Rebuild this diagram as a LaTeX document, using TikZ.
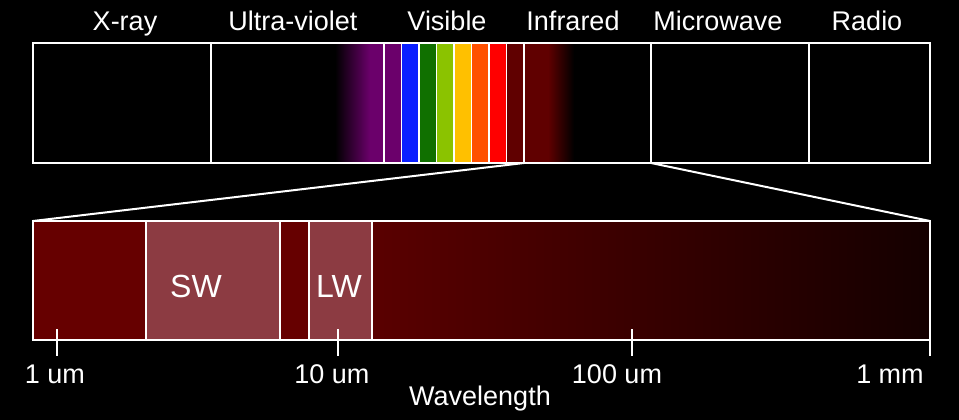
\documentclass[tikz,border=0pt]{standalone}
\usepackage{fontspec}
\setmainfont{Liberation Sans}

\definecolor{vpurple}{HTML}{6B006B}
\definecolor{vblue}{HTML}{0A1EFF}
\definecolor{vgreen}{HTML}{107000}
\definecolor{vlime}{HTML}{8BC300}
\definecolor{vyellow}{HTML}{FFC000}
\definecolor{vorange}{HTML}{FF5000}
\definecolor{vred}{HTML}{FF0000}
\definecolor{vdarkred}{HTML}{600000}
\definecolor{irred}{HTML}{660000}
\definecolor{bandfill}{HTML}{8C3B42}
\definecolor{farred}{HTML}{5A0000}
\definecolor{farblack}{HTML}{140000}

\begin{document}
\begin{tikzpicture}[
	x=1pt, y=-1pt,
	outline/.style={white, line width=2pt},
	toplabel/.style={white, anchor=base, font=\fontsize{27}{32}\selectfont},
	axislabel/.style={white, anchor=base, font=\fontsize{27}{32}\selectfont},
	bandlabel/.style={white, anchor=base, font=\fontsize{32}{38}\selectfont}
	]
	
	% Background
	\fill[black] (0,0) rectangle (959,420);
	
	% Corners of both bars
	\coordinate (topNW) at (33,43);
	\coordinate (topSE) at (930,163);
	\coordinate (irSW) at (524,163);
	\coordinate (mwSW) at (651,163);
	\coordinate (botNW) at (33,221);
	\coordinate (botNE) at (930,221);
	\coordinate (botSE) at (930,340);
	
	% Visible part of the top bar
	\shade[left color=black, right color=vpurple] (335,43) rectangle (370,163);
	\fill[vpurple] (370,43) rectangle (384,163);
	\foreach \c [count=\i from 0] in {vpurple,vblue,vgreen,vlime,vyellow,vorange,vred,vdarkred}
	\fill[\c] ({384+17.5*\i},43) rectangle ++(17.5,120);
	\fill[vdarkred] (524,43) rectangle (548,163);
	\shade[left color=vdarkred, right color=black] (548,43) rectangle (574,163);
	
	% Infrared part of the bottom bar
	\fill[irred] (33,221) rectangle (146,340);
	\fill[bandfill] (146,221) rectangle (280,340);
	\fill[irred] (280,221) rectangle (309,340);
	\fill[bandfill] (309,221) rectangle (372,340);
	\shade[left color=farred, right color=farblack] (372,221) rectangle (930,340);
	
	% Outlines
	\draw[outline] (topNW) rectangle (topSE);
	\foreach \x in {211,651,809}
	\draw[outline] (\x,43) -- (\x,163);
	\foreach \k in {0,...,8}
	\draw[white, line width=1.2pt] ({384+17.5*\k},43) -- ({384+17.5*\k},163);
	
	\draw[outline] (botNW) rectangle (botSE);
	\foreach \x in {146,280,309,372}
	\draw[outline] (\x,221) -- (\x,340);
	
	% Zoom lines
	\draw[outline] (irSW) -- (botNW);
	\draw[outline] (mwSW) -- (botNE);
	
	% Ticks
	\foreach \x in {57,338,632}
	\draw[outline] (\x,329) -- (\x,356);
	\draw[outline] (botSE) -- (930,356);
	
	% Names of the ranges
	\node[toplabel] (xray) at (125,31) {X-ray};
	\node[toplabel] (uv) at (293,31) {Ultra-violet};
	\node[toplabel] (vis) at (447,31) {Visible};
	\node[toplabel] (ir) at (573,31) {Infrared};
	\node[toplabel] (mw) at (718,31) {Microwave};
	\node[toplabel] (radio) at (867,31) {Radio};
	
	\node[bandlabel] (sw) at (196,297) {SW};
	\node[bandlabel] (lw) at (339,297) {LW};
	
	% Axis
	\node[axislabel] (t1) at (55,383) {1 um};
	\node[axislabel] (t10) at (332,383) {10 um};
	\node[axislabel] (t100) at (617,383) {100 um};
	\node[axislabel] (t1mm) at (890,383) {1 mm};
	\node[axislabel] (wl) at (480,405) {Wavelength};
	
\end{tikzpicture}
\end{document}
